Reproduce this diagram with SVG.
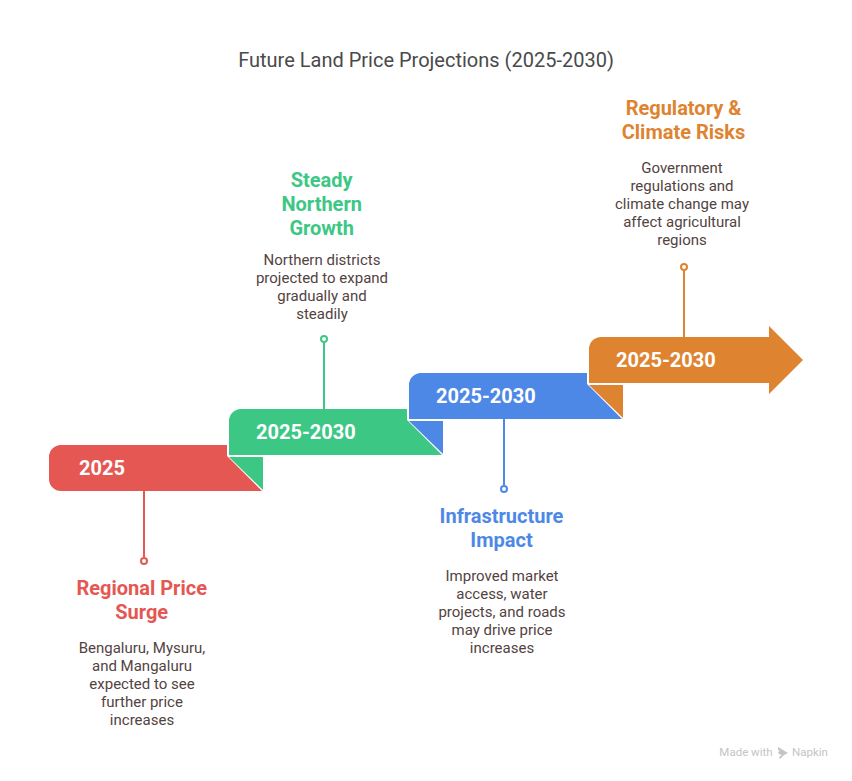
<svg xmlns="http://www.w3.org/2000/svg" width="852" height="781" viewBox="0 0 852 781">
<style>
text{font-family:Roboto,"Liberation Sans",sans-serif;text-anchor:middle}
.t{font-size:20px;fill:#4a4a4a}
.y{font-size:20px;font-weight:700;fill:#fff;text-anchor:start}
.h{font-size:20px;font-weight:700}
.b{font-size:15px;fill:#53433f}
.line{fill:none;stroke-width:2}
.dot{fill:#fff;stroke-width:2}
.r{fill:#e55753;stroke:#e55753}
.g{fill:#3dc785;stroke:#3dc785}
.bl{fill:#4e88e7;stroke:#4e88e7}
.o{fill:#de8431;stroke:#de8431}
.s{stroke:none}
</style>
<rect width="852" height="781" fill="#fff"/>
<text class="t" x="426" y="67">Future Land Price Projections (2025-2030)</text>
<g id="connectors">
<line class="line r" x1="144" y1="491" x2="144" y2="557"/>
<circle class="dot r" style="fill:#fff" cx="144" cy="561" r="3"/>
<line class="line g" x1="324" y1="343" x2="324" y2="409"/>
<circle class="dot g" style="fill:#fff" cx="324" cy="339" r="3"/>
<line class="line bl" x1="504" y1="419" x2="504" y2="485"/>
<circle class="dot bl" style="fill:#fff" cx="504" cy="489" r="3"/>
<line class="line o" x1="684" y1="271" x2="684" y2="337"/>
<circle class="dot o" style="fill:#fff" cx="684" cy="267" r="3"/>
</g>
<g id="node-red">
<path class="r s" d="M61 445H227V456L262 491H61A12 12 0 0 1 49 479V457A12 12 0 0 1 61 445Z"/>
<path class="g s" d="M229 457H263V490Z"/>
<text class="y" x="79" y="475">2025</text>
<text class="h" x="141.700" y="595" fill="#e55753">Regional Price</text>
<text class="h" x="141.700" y="619" fill="#e55753">Surge</text>
<text class="b" x="142" y="653">Bengaluru, Mysuru,</text>
<text class="b" x="142" y="671">and Mangaluru</text>
<text class="b" x="142" y="689">expected to see</text>
<text class="b" x="142" y="707">further price</text>
<text class="b" x="142" y="725">increases</text>
</g>
<g id="node-green">
<path class="g s" d="M241 409H407V420L442 455H229V421A12 12 0 0 1 241 409Z"/>
<path class="bl s" d="M409 421H443V454Z"/>
<text class="y" x="256" y="439">2025-2030</text>
<text class="h" x="321.700" y="187" fill="#3dc785">Steady</text>
<text class="h" x="321.700" y="211" fill="#3dc785">Northern</text>
<text class="h" x="321.700" y="235" fill="#3dc785">Growth</text>
<text class="b" x="322" y="265">Northern districts</text>
<text class="b" x="322" y="283">projected to expand</text>
<text class="b" x="322" y="301">gradually and</text>
<text class="b" x="322" y="319">steadily</text>
</g>
<g id="node-blue">
<path class="bl s" d="M421 373H587V384L622 419H409V385A12 12 0 0 1 421 373Z"/>
<path class="o s" d="M589 385H623V418Z"/>
<text class="y" x="436" y="403">2025-2030</text>
<text class="h" x="501.500" y="523" fill="#4e88e7">Infrastructure</text>
<text class="h" x="501.500" y="547" fill="#4e88e7">Impact</text>
<text class="b" x="502" y="581">Improved market</text>
<text class="b" x="502" y="599">access, water</text>
<text class="b" x="502" y="617">projects, and roads</text>
<text class="b" x="502" y="635">may drive price</text>
<text class="b" x="502" y="653">increases</text>
</g>
<g id="node-orange">
<path class="o s" d="M601 337H769V326L803 360L769 394V383H589V349A12 12 0 0 1 601 337Z"/>
<text class="y" x="616" y="367">2025-2030</text>
<text class="h" x="683.500" y="115" fill="#de8431">Regulatory &amp;</text>
<text class="h" x="683.500" y="139" fill="#de8431">Climate Risks</text>
<text class="b" x="682" y="173">Government</text>
<text class="b" x="682" y="191">regulations and</text>
<text class="b" x="682" y="209">climate change may</text>
<text class="b" x="682" y="227">affect agricultural</text>
<text class="b" x="682" y="245">regions</text>
</g>
<g id="watermark">
<text x="746" y="756" font-size="11.500" fill="#c4c4c4">Made with</text>
<path d="M778 747l5 3 5 3-4 2-3 3-1 1-1-2 3-2-3-1-1-2 2-1-2-1z" fill="#c4c4c4"/>
<text x="810" y="756" font-size="11.500" fill="#c4c4c4">Napkin</text>
</g>
</svg>
